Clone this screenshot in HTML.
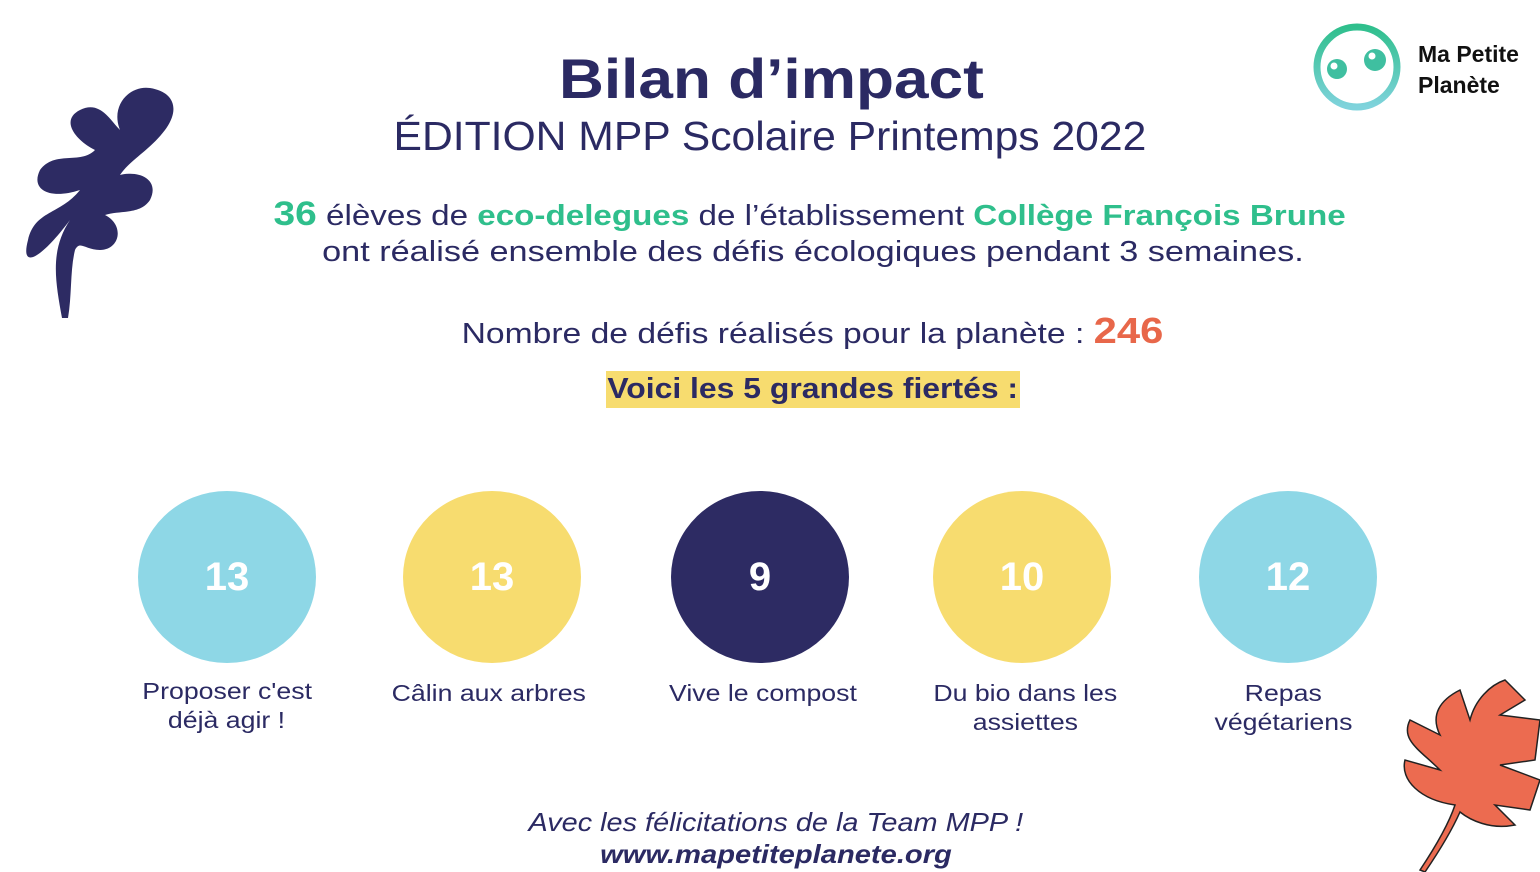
<!DOCTYPE html>
<html><head><meta charset="utf-8"><style>
body{margin:0;width:1540px;height:872px;background:#fff;position:relative;overflow:hidden;font-family:"Liberation Sans",sans-serif;color:#2b2a63}
.t{position:absolute;left:0;width:1540px;text-align:center;white-space:nowrap}
.t>span,.l>span{display:inline-block;transform-origin:center}
.c{position:absolute;width:178px;height:172px;border-radius:50%;display:flex;align-items:center;justify-content:center;color:#fff;font-weight:bold;font-size:40px;top:491px}
.l{position:absolute;width:260px;text-align:center;font-size:23px;line-height:29px;top:677px}
.l>span{transform:scaleX(1.16)}
.g{color:#2fbf8c;font-weight:bold}
</style></head><body>
<svg style="position:absolute;left:0;top:0" width="1540" height="872">
 <g fill="#2d2b63">
  <path d="M62 318 C55 280 50 250 70 220 C40 260 20 270 28 240 C35 210 60 215 80 190 C50 200 30 190 40 170 C55 150 80 165 95 150 C75 140 60 120 80 110 C100 100 110 120 120 130 C110 105 130 85 150 88 C175 92 180 110 165 130 C150 150 130 160 120 175 C140 170 160 180 150 200 C140 215 120 210 105 215 C125 225 120 250 100 250 C85 250 80 240 75 250 C70 270 72 295 68 318 Z"/>
 </g>
 <g>
  <path d="M1420 870 C1440 840 1450 820 1455 805 C1420 800 1400 780 1405 760 L1440 770 C1420 750 1400 740 1410 720 L1440 735 C1430 715 1440 700 1460 690 L1470 720 C1475 700 1490 685 1505 680 L1525 700 L1500 715 L1540 720 L1535 760 L1500 765 L1540 780 L1530 810 L1495 805 L1515 825 C1490 830 1470 820 1460 812 C1452 830 1440 850 1425 872 Z" fill="#ec6b50" stroke="#222" stroke-width="1.5"/>
 </g>
 <defs><linearGradient id="lg" x1="0" y1="0" x2="0" y2="1"><stop offset="0" stop-color="#2fbf8c"/><stop offset="1" stop-color="#7fd3dc"/></linearGradient></defs>
 <circle cx="1357" cy="67" r="40" fill="none" stroke="url(#lg)" stroke-width="7"/>
 <circle cx="1337" cy="69" r="10" fill="#3fbfa0"/><circle cx="1375" cy="60" r="11" fill="#3fbfa0"/>
 <circle cx="1334" cy="66" r="3.5" fill="#fff"/><circle cx="1372" cy="56" r="3.5" fill="#fff"/>
</svg>
<div style="position:absolute;left:1418px;top:39px;font-weight:bold;font-size:23px;line-height:31px;color:#111">Ma Petite<br>Planète</div>
<div class="t" style="top:46px;font-size:56px;font-weight:bold;left:1px"><span style="transform:scaleX(1.11)">Bilan d’impact</span></div>
<div class="t" style="top:113px;font-size:41px;left:0"><span style="transform:scaleX(1.04)">ÉDITION MPP Scolaire Printemps 2022</span></div>
<div class="t" style="top:195px;font-size:29px;left:40px"><span style="transform:scaleX(1.144)"><span class="g" style="font-size:34px">36</span> élèves de <span class="g">eco-delegues</span> de l’établissement <span class="g">Collège François Brune</span></span></div>
<div class="t" style="top:236px;font-size:29px;left:43px"><span style="transform:scaleX(1.18)">ont réalisé ensemble des défis écologiques pendant 3 semaines.</span></div>
<div class="t" style="top:310px;font-size:29px;left:42px"><span style="transform:scaleX(1.16)">Nombre de défis réalisés pour la planète : <b style="color:#e8674a;font-size:36px">246</b></span></div>
<div style="position:absolute;left:606px;top:371px;width:414px;height:37px;background:#f7dc6f;font-weight:bold;font-size:29px;line-height:37px;text-align:center;white-space:nowrap"><span style="display:inline-block;transform:scaleX(1.1)">Voici les 5 grandes fiertés :</span></div>
<div class="c" style="left:138px;background:#8ed7e6">13</div>
<div class="c" style="left:403px;background:#f7dc6f">13</div>
<div class="c" style="left:671px;background:#2d2b63">9</div>
<div class="c" style="left:933px;background:#f7dc6f">10</div>
<div class="c" style="left:1199px;background:#8ed7e6">12</div>
<div class="l" style="left:97px"><span>Proposer c'est</span><br><span>déjà agir !</span></div>
<div class="l" style="left:359px;top:679px"><span>Câlin aux arbres</span></div>
<div class="l" style="left:633px;top:679px"><span>Vive le compost</span></div>
<div class="l" style="left:895px;top:679px"><span>Du bio dans les</span><br><span>assiettes</span></div>
<div class="l" style="left:1153px;top:679px"><span>Repas</span><br><span>végétariens</span></div>
<div class="t" style="top:807px;font-size:26px;font-style:italic;left:6px"><span style="transform:scaleX(1.11)">Avec les félicitations de la Team MPP !</span></div>
<div class="t" style="top:839px;font-size:26px;font-style:italic;font-weight:bold;left:6px"><span style="transform:scaleX(1.12)">www.mapetiteplanete.org</span></div>
</body></html>
